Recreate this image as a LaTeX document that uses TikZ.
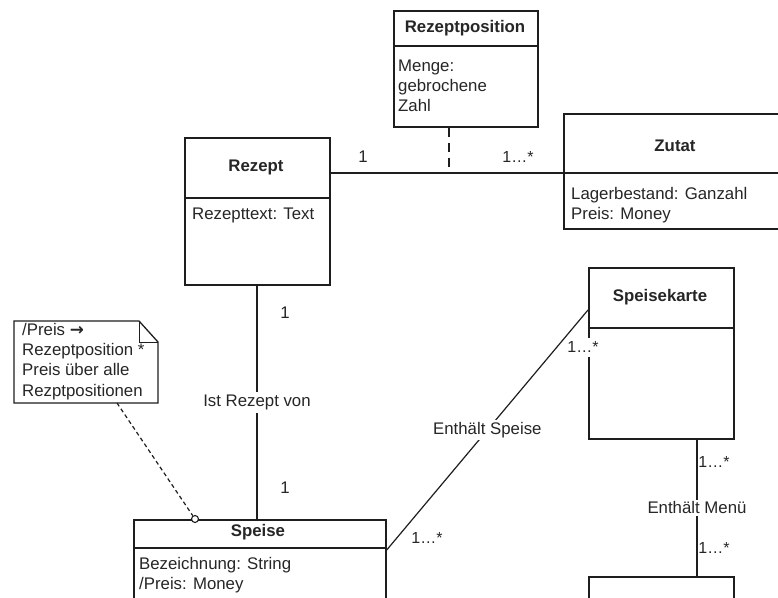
\documentclass[tikz,border=0pt]{standalone}
\usepackage{fontspec}
\setmainfont{Liberation Sans}
\newfontfamily\arrowfont{DejaVu Sans}
\usetikzlibrary{calc}
\definecolor{ink}{HTML}{262626}
\definecolor{linec}{HTML}{1E1E1E}
\tikzset{
  cls/.style={draw=linec, line width=1.7pt, anchor=north west, inner sep=0pt, fill=white},
  divider/.style={draw=linec, line width=1.5pt},
  title/.style={text=ink, inner sep=0pt, font=\fontsize{16.8}{20}\selectfont\bfseries},
  attr/.style={text=ink, inner sep=0pt, anchor=west, align=left, font=\fontsize{16.8}{20.3}\selectfont},
  lbl/.style={text=ink, inner sep=0pt, font=\fontsize{16.8}{20}\selectfont},
  mult/.style={text=ink, inner sep=1pt, font=\fontsize{16}{18}\selectfont},
  assoc/.style={draw=linec, line width=1.2pt},
  notedash/.style={draw=linec, line width=1.2pt, dash pattern=on 4pt off 3pt},
  posdash/.style={draw=linec, line width=1.1pt, dash pattern=on 9pt off 6pt},
}
\begin{document}
\begin{tikzpicture}[x=1pt, y=-1pt]
\useasboundingbox (0,0) rectangle (778,597);
\clip (0,0) rectangle (778,597);
\fill[white] (0,0) rectangle (778,597);

% ---- classes ----
\node[cls, minimum width=144pt, minimum height=116pt] (rezeptposition) at (393,10) {};
\draw[divider] ([yshift=-36pt]rezeptposition.north west) -- ([yshift=-36pt]rezeptposition.north east);
\node[title] (rezeptposition-name) at (465,28) {Rezeptposition};
\node[attr] (rezeptposition-attr) at (398,86) {Menge:\\gebrochene\\Zahl};

\node[cls, minimum width=224pt, minimum height=115pt] (zutat) at (563,113) {};
\draw[divider] ([yshift=-60pt]zutat.north west) -- ([yshift=-60pt]zutat.north east);
\node[title] (zutat-name) at (675,146) {Zutat};
\node[attr] (zutat-attr) at (571,205) {Lagerbestand: Ganzahl\\Preis: Money};

\node[cls, minimum width=145pt, minimum height=147pt] (rezept) at (184,137) {};
\draw[divider] ([yshift=-61pt]rezept.north west) -- ([yshift=-61pt]rezept.north east);
\node[title] (rezept-name) at (256,167) {Rezept};
\node[attr] (rezept-attr) at (192,215) {Rezepttext: Text};

\node[cls, minimum width=252pt, minimum height=110pt] (speise) at (133,519) {};
\draw[divider] ([yshift=-29pt]speise.north west) -- ([yshift=-29pt]speise.north east);
\node[title] (speise-name) at (258,532) {Speise};
\node[attr] (speise-attr) at (139,575) {Bezeichnung: String\\/Preis: Money};

\node[cls, minimum width=145pt, minimum height=171pt] (speisekarte) at (588,267) {};
\draw[divider] ([yshift=-61pt]speisekarte.north west) -- ([yshift=-61pt]speisekarte.north east);
\node[title] (speisekarte-name) at (660,297) {Speisekarte};

\node[cls, minimum width=145pt, minimum height=60pt] (menue) at (588,576) {};

% ---- Rezept -- Zutat with association class ----
\coordinate (rz-zu) at (449,173);
\draw[assoc] (rezept.east |- rz-zu) -- (zutat.west |- rz-zu);
\draw[posdash] (rezeptposition.south -| rz-zu) -- (rz-zu);
\node[lbl] (m-rezept) at (363,157) {1};
\node[mult] (m-zutat) at (518,157) {1…*};

% ---- Rezept -- Speise ----
\coordinate (rz-sp) at (257,0);
\draw[assoc] (rezept.south -| rz-sp) -- node[lbl, fill=white, inner ysep=3pt] (ist-rezept) {Ist Rezept von} (speise.north -| rz-sp);
\node[lbl] (m-rezept2) at (285,313) {1};
\node[lbl] (m-speise) at (285,488) {1};

% ---- Speise -- Speisekarte ----
\draw[assoc] ([yshift=-31pt]speise.north east) -- node[lbl, fill=white, inner sep=2pt] (enthaelt-speise) {Enthält Speise} ([yshift=-43pt]speisekarte.north west);
\node[mult, fill=white, inner ysep=4pt] (m-karte) at (583,347) {1…*};
\node[mult] (m-speise2) at (427,538) {1…*};

% ---- Speisekarte -- Menü ----
\coordinate (km) at (697,0);
\draw[assoc] (speisekarte.south -| km) -- node[lbl, fill=white, inner sep=2pt] (enthaelt-menue) {Enthält Menü} (menue.north -| km);
\node[mult] (m-karte2) at (714,462) {1…*};
\node[mult] (m-menue) at (714,548) {1…*};

% ---- note ----
\draw[draw=linec, line width=1.3pt, fill=white]
  (14,321) -- (139,321) -- (158,342) -- (158,403) -- (14,403) -- cycle;
\draw[draw=linec, line width=1pt] (139,321) -- (139,342) -- (158,342);
\node[attr, anchor=north west] (note) at (22,323) {/Preis {\arrowfont\bfseries →}\\Rezeptposition *\\Preis über alle\\Rezptpositionen};
\coordinate (note-foot) at (117,403);
\node[circle, draw=linec, line width=1.1pt, fill=white, minimum size=7pt, inner sep=0pt] (note-anchor) at (195,519) {};
\draw[notedash] (note-foot) -- (note-anchor);
\end{tikzpicture}
\end{document}
